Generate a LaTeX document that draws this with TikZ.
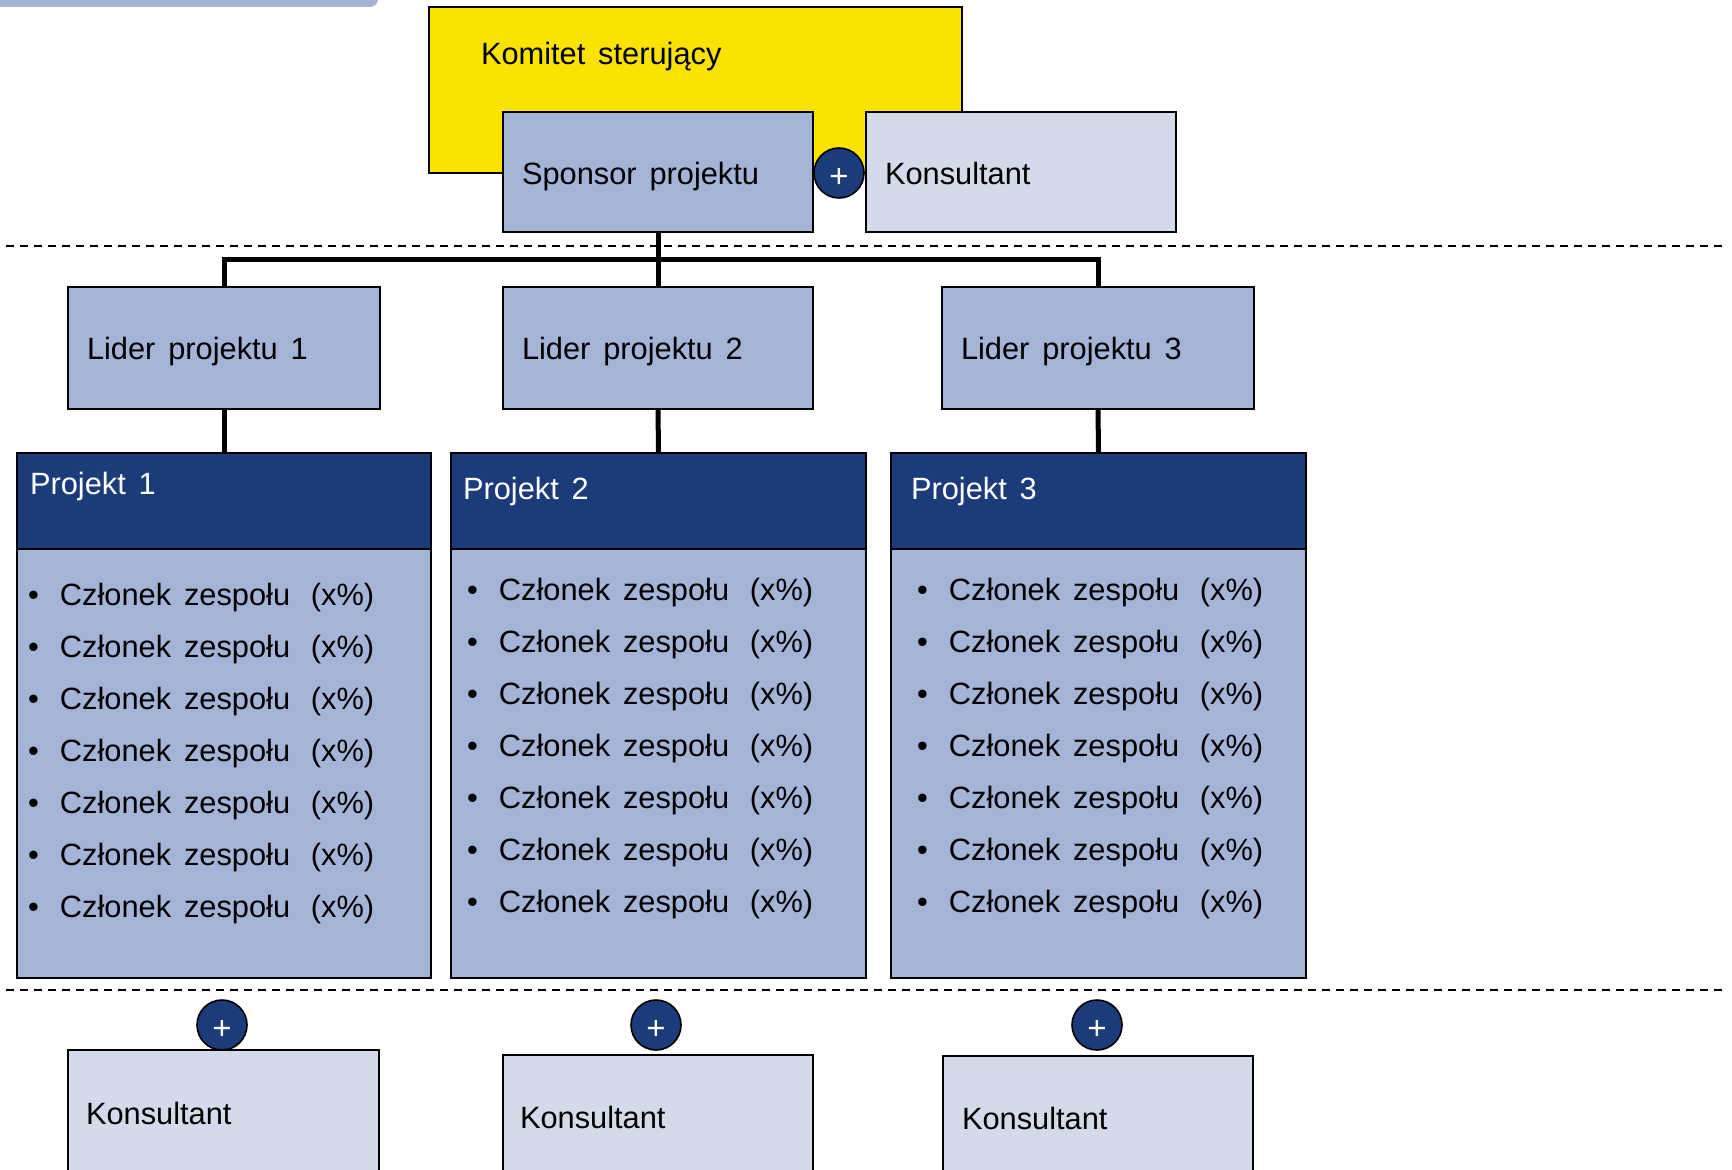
\documentclass[tikz,border=0pt]{standalone}
\usepackage{fontspec}
\setmainfont{Liberation Sans}[WordSpace=1.5]
\definecolor{pyellow}{HTML}{FAE300}
\definecolor{pmed}{HTML}{A4B4D6}
\definecolor{plight}{HTML}{D3DAE9}
\definecolor{pdark}{HTML}{1C3B7A}
\newcommand{\mainsz}{\fontsize{15.4pt}{18pt}\selectfont}
\tikzset{
  box/.style={draw=black, line width=0.9pt, rectangle, inner sep=0pt, outer sep=0pt, anchor=north west},
  sz/.style 2 args={minimum width=#1*0.5pt, minimum height=#2*0.5pt},
  txt/.style={inner sep=0pt, outer sep=0pt, anchor=base west, font=\mainsz, text=black},
  conn/.style={line width=2.5pt},
  sepline/.style={line width=1.2pt, dash pattern=on 3.8pt off 3.2pt},
  plusc/.style={circle, draw=black, line width=0.8pt, fill=pdark, minimum size=25pt, inner sep=0pt, text=white, text height=14.2pt, text depth=0pt, font=\fontsize{16.5pt}{18pt}\selectfont},
}
\begin{document}
\begin{tikzpicture}[x=0.5pt,y=-0.5pt]
\useasboundingbox (0,0) rectangle (1732,1170);
\clip (0,0) rectangle (1732,1170);
% top-left decorative bar
\fill[pmed, rounded corners=4pt] (-20,-20) rectangle (378,7);

% separators
\coordinate (s1a) at (6,246);
\coordinate (s1b) at (1722,246);
\coordinate (s2a) at (6,990);
\coordinate (s2b) at (1722,990);
\draw[sepline] (s1a) -- (s1b);
\draw[sepline] (s2a) -- (s2b);

% top level
\node[box, sz={533}{166}, fill=pyellow] (komitet) at (429,7) {};
\node[box, sz={310}{120}, fill=pmed] (sponsor) at (503,112) {};
\node[box, sz={310}{120}, fill=plight] (kons0) at (866,112) {};
\node[plusc] (plus0) at (839,173) {+};
\node[txt] (tkomitet) at (481,65) {Komitet sterujący};
\node[txt] (tsponsor) at (522,185) {Sponsor projektu};
\node[txt] (tkons0) at (885,185) {Konsultant};

% leaders
\node[box, sz={312}{122}, fill=pmed] (lider1) at (68,287) {};
\node[box, sz={310}{122}, fill=pmed] (lider2) at (503,287) {};
\node[box, sz={312}{122}, fill=pmed] (lider3) at (942,287) {};
\node[txt] (tlider1) at (87,360) {Lider projektu 1};
\node[txt] (tlider2) at (522,360) {Lider projektu 2};
\node[txt] (tlider3) at (961,360) {Lider projektu 3};

% projects
\node[box, sz={414}{525}, fill=pmed] (proj1) at (17,453) {};
\node[box, sz={415}{525}, fill=pmed] (proj2) at (451,453) {};
\node[box, sz={415}{525}, fill=pmed] (proj3) at (891,453) {};
\node[box, sz={414}{96}, fill=pdark] (head1) at (17,453) {};
\node[box, sz={415}{96}, fill=pdark] (head2) at (451,453) {};
\node[box, sz={415}{96}, fill=pdark] (head3) at (891,453) {};
\node[txt, text=white] (thead1) at (30,494) {Projekt 1};
\node[txt, text=white] (thead2) at (463,499) {Projekt 2};
\node[txt, text=white] (thead3) at (911,499) {Projekt 3};

\foreach \p/\bx/\by in {1/28/605, 2/467/600, 3/917/600} {
  \foreach \i in {0,...,6} {
    \node[txt] (m\p-\i) at (\bx,\by+52*\i)
      {\makebox[16pt][l]{•}\makebox[125.5pt][l]{Członek zespołu}(x\%)};
  }
}

% bottom consultants
\node[plusc] (plus1) at (222,1025) {+};
\node[plusc] (plus2) at (656,1025) {+};
\node[plusc] (plus3) at (1097,1025) {+};
\node[box, sz={311}{160}, fill=plight] (kons1) at (68,1050) {};
\node[box, sz={310}{160}, fill=plight] (kons2) at (503,1055) {};
\node[box, sz={310}{160}, fill=plight] (kons3) at (943,1056) {};
\node[txt] (tkons1) at (86,1124) {Konsultant};
\node[txt] (tkons2) at (520,1128) {Konsultant};
\node[txt] (tkons3) at (962,1129) {Konsultant};

% connectors
\coordinate (bus) at (658,260);
\draw[conn] (sponsor.south) -- (lider2.north);
\draw[conn] (lider1.north) -- (lider1.north |- bus) -- (lider3.north |- bus) -- (lider3.north);
\draw[conn] (lider1.south) -- (head1.north);
\draw[conn] (lider2.south) -- (head2.north);
\draw[conn] (lider3.south) -- (head3.north);
\end{tikzpicture}
\end{document}
